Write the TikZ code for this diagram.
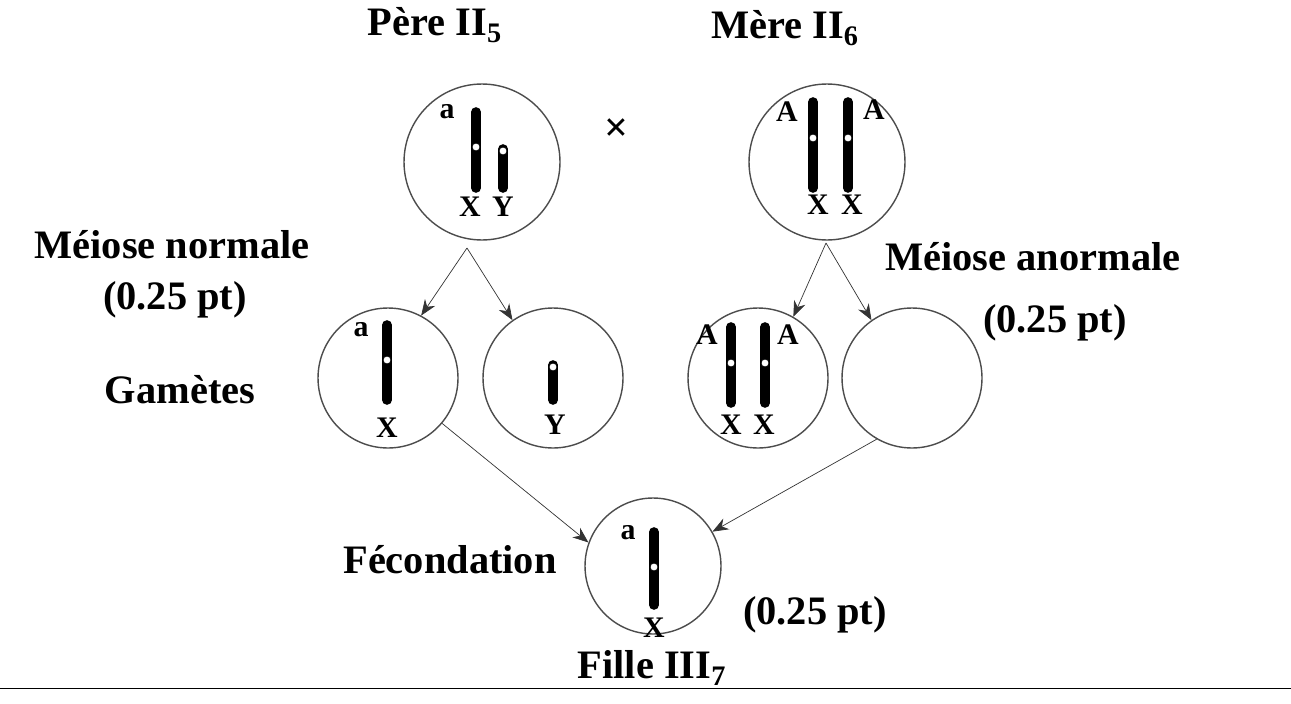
\documentclass[tikz,border=0pt]{standalone}
\usepackage{fontspec}
\setmainfont{Liberation Serif}
\usetikzlibrary{positioning, arrows.meta, calc}
\tikzset{
    cell/.style={circle, draw=black!70, thick, minimum size=#1},
    lbl/.style={font=\fontsize{23}{27}\selectfont\bfseries, inner sep=0pt},
    gene/.style={font=\fontsize{17}{19}\selectfont\bfseries, inner sep=0pt},
    chrom/.style={line width=5.5pt, line cap=round},
    centro/.style={circle, fill=white, draw=black, inner sep=0pt, minimum size=4.5pt},
    flow/.style={-{Stealth[length=9pt, width=7pt]}, black!80, thin},
}
\newcommand{\Chrom}[4]{% x, top, bottom, centromere
  \draw[chrom] (#1,#2) -- (#1,#3);
  \node[centro] at (#1,#4) {};
}
\begin{document}
\begin{tikzpicture}[x=0.02cm, y=-0.02cm]
    \useasboundingbox (0,0) rectangle (1291,703);

    % parents
    \node[cell=3.12cm] (pere) at (482,162) {};
    \node[cell=3.12cm] (mere) at (827,162) {};
    \node[lbl] at (435,25) {Père II\textsubscript{5}};
    \node[lbl] at (785,28) {Mère II\textsubscript{6}};
    \node[font=\fontsize{24}{28}\selectfont\bfseries] at (617,130) {×};

    \Chrom{476}{112}{188}{147}
    \Chrom{503}{149}{188}{151}
    \node[gene] at (447,112) {a};
    \node[gene] at (470,207) {X};
    \node[gene] at (503,207) {Y};

    \Chrom{813}{102}{188}{138}
    \Chrom{848}{102}{188}{138}
    \node[gene] at (787,112) {A};
    \node[gene] at (874,110) {A};
    \node[gene] at (818,205) {X};
    \node[gene] at (852,205) {X};

    % gametes
    \node[cell=2.8cm] (g1) at (388,378) {};
    \node[cell=2.8cm] (g2) at (553,378) {};
    \node[cell=2.8cm] (g3) at (758,378) {};
    \node[cell=2.8cm] (g4) at (912,378) {};

    \Chrom{387}{325}{400}{360}
    \node[gene] at (361,330) {a};
    \node[gene] at (387,428) {X};
    \Chrom{553}{365}{400}{367}
    \node[gene] at (555,425) {Y};
    \Chrom{731}{327}{403}{363}
    \Chrom{765}{327}{403}{363}
    \node[gene] at (707,335) {A};
    \node[gene] at (788,335) {A};
    \node[gene] at (731,425) {X};
    \node[gene] at (764,425) {X};

    % daughter
    \node[cell=2.72cm] (fille) at (653,566) {};
    \Chrom{654}{532}{605}{567}
    \node[gene] at (628,533) {a};
    \node[gene] at (654,628) {X};

    % labels
    \node[lbl] at (172,245) {Méiose normale};
    \node[lbl] at (175,300) {(0.25 pt)};
    \node[lbl] at (180,390) {Gamètes};
    \node[lbl] at (1033,257) {Méiose anormale};
    \node[lbl] at (1055,323) {(0.25 pt)};
    \node[lbl] at (450,560) {Fécondation};
    \node[lbl] at (815,615) {(0.25 pt)};
    \node[lbl] at (652,668) {Fille III\textsubscript{7}};

    % arrows
    \coordinate (splitP) at (467,248);
    \coordinate (splitM) at (826,243);
    \draw[flow] (splitP) -- (g1.62);
    \draw[flow] (splitP) -- (g2.125);
    \draw[flow] (splitM) -- (g3.60);
    \draw[flow] (splitM) -- (g4.125);
    \draw[flow] (g1.-40) -- (fille.160);
    \draw[flow] (g4.-120) -- (fille.30);

    \draw[thin] (0,688) -- (1291,688);
\end{tikzpicture}
\end{document}
